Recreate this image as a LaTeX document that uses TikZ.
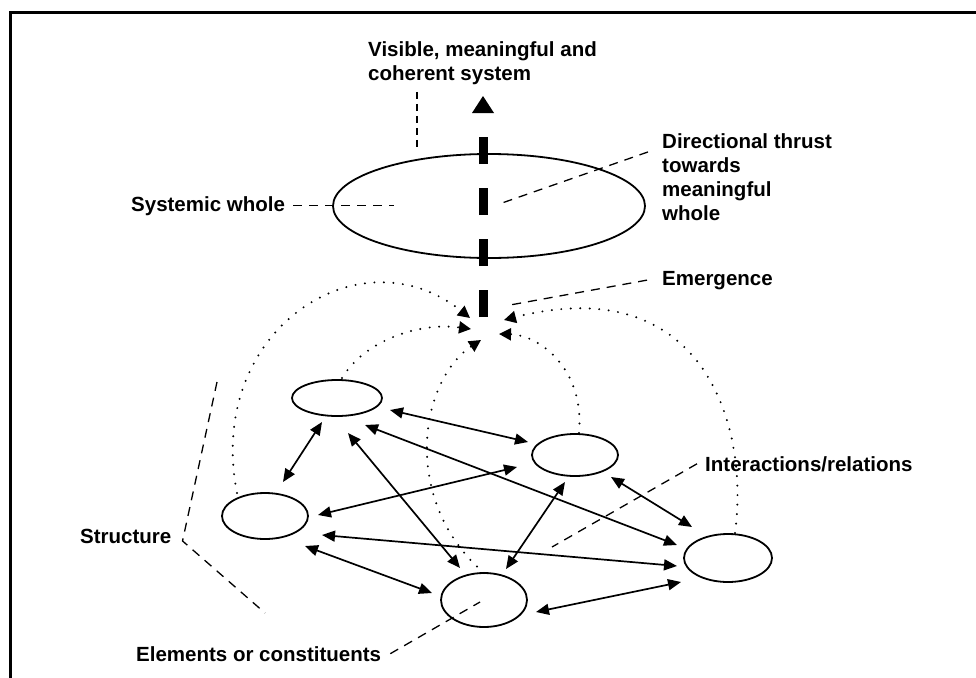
\documentclass[tikz,border=0pt]{standalone}
\usepackage{fontspec}
\setmainfont{Liberation Sans}
\usetikzlibrary{shapes.geometric,arrows.meta}
\begin{document}
\begin{tikzpicture}[x=1pt,y=-1pt,
  lbl/.style={anchor=base west,inner sep=0pt,align=left,
    font=\fontsize{20.5}{24}\selectfont\bfseries},
  elem/.style={draw,ellipse,line width=1.8pt,inner sep=0pt},
  leader/.style={line width=1.3pt,dash pattern=on 9pt off 7pt},
  rel/.style={line width=1.7pt,
    {Triangle[length=13pt,width=11pt]}-{Triangle[length=13pt,width=11pt]}},
  emerge/.style={line width=2.2pt,line cap=round,dash pattern=on 0pt off 9.5pt,
    -{Triangle[length=12pt,width=12pt]}},
  thrust/.style={line width=9pt,dash pattern=on 27pt off 24pt},
]
\useasboundingbox (0,0) rectangle (976,677);

% frame
\draw[line width=3pt] (10,700) -- (10,13) -- (1000,13);

% systemic whole and its elements
\node[elem,minimum width=312pt,minimum height=104pt] (whole) at (489,206) {};
\node[elem,minimum width=90pt,minimum height=36pt] (A) at (337,398) {};
\node[elem,minimum width=86pt,minimum height=46pt] (B) at (265,516) {};
\node[elem,minimum width=86pt,minimum height=42pt] (C) at (575,455) {};
\node[elem,minimum width=86pt,minimum height=54pt] (D) at (484,600) {};
\node[elem,minimum width=88pt,minimum height=48pt] (E) at (728,558) {};

% labels (multi-line labels are placed by the baseline of their last line)
\node[lbl] (vis) at (368,80.5) {Visible, meaningful and\\coherent system};
\node[lbl] (dir) at (662,220) {Directional thrust\\towards\\meaningful\\whole};
\node[lbl] (sys) at (131,211) {Systemic whole};
\node[lbl] (eme) at (662,285) {Emergence};
\node[lbl] (int) at (705,471) {Interactions/relations};
\node[lbl] (str) at (80,543) {Structure};
\node[lbl] (ele) at (136,661) {Elements or constituents};

% points where emergence converges and the thrust rises
\coordinate (emg) at (485,326);
\coordinate (thrustfoot) at (483,317);
\coordinate (thrusttop) at (483,137);
\coordinate (thrusttip) at (483,96);

% directional thrust
\draw[thrust] (thrustfoot) -- (thrusttop);
\fill (thrusttip) -- ++(11,17) -- ++(-22,0) -- cycle;

% interactions / relations
\draw[rel] ([shift={(-15,24)}]A.center) -- ([shift={(18,-34)}]B.center);
\draw[rel] ([shift={(53,12)}]A.center) -- ([shift={(-47,-13)}]C.center);
\draw[rel] ([shift={(53,-1)}]B.center) -- ([shift={(-58,12)}]C.center);
\draw[rel] ([shift={(11,35)}]A.center) -- ([shift={(-24,-32)}]D.center);
\draw[rel] ([shift={(28,27)}]A.center) -- ([shift={(-51,-13)}]E.center);
\draw[rel] ([shift={(-10,27)}]C.center) -- ([shift={(22,-31)}]D.center);
\draw[rel] ([shift={(36,22)}]C.center) -- ([shift={(-36,-31)}]E.center);
\draw[rel] ([shift={(57,19)}]B.center) -- ([shift={(-51,8)}]E.center);
\draw[rel] ([shift={(40,30)}]B.center) -- ([shift={(-52,-7)}]D.center);
\draw[rel] ([shift={(52,12)}]D.center) -- ([shift={(-47,24)}]E.center);

% emergence arcs
\draw[emerge] ([shift={(-28,-23)}]B.center) .. controls (205,330) and (360,230) .. ([shift={(-15,-8)}]emg);
\draw[emerge] ([shift={(5,-20)}]A.center) .. controls (365,340) and (420,322) .. ([shift={(-14,3)}]emg);
\draw[emerge] ([shift={(0,-27)}]D.center) .. controls (400,500) and (420,380) .. ([shift={(-4,14)}]emg);
\draw[emerge] ([shift={(4,-22)}]C.center) .. controls (585,370) and (540,335) .. ([shift={(14,8)}]emg);
\draw[emerge] ([shift={(7,-25)}]E.center) .. controls (750,420) and (700,270) .. ([shift={(19,-6)}]emg);

% leaders from labels
\coordinate (dirfoot) at (502,203);
\coordinate (emefoot) at (510,305);
\coordinate (intfoot) at (552,547);
\coordinate (strtop) at (217,382);
\coordinate (strbot) at (265,613);
\draw[leader,dash pattern=on 7pt off 5pt] ([shift={(49,7)}]vis.south west) -- ++(0,58);
\draw[leader] ([xshift=8]sys.east) -- ([xshift=109]sys.east);
\draw[leader] ([shift={(-14,19)}]dir.north west) -- (dirfoot);
\draw[leader] ([xshift=-15]eme.west) -- (emefoot);
\draw[leader] ([xshift=-8]int.west) -- (intfoot);
\draw[leader] ([xshift=9]ele.east) -- ([shift={(-4,2)}]D.center);
\draw[leader] (strtop) -- ([shift={(11,5)}]str.east) -- (strbot);
\end{tikzpicture}
\end{document}
